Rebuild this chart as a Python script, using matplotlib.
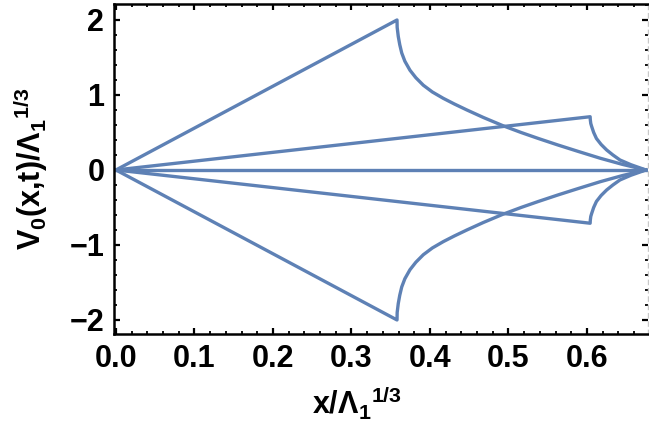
import matplotlib
matplotlib.use("Agg")
import matplotlib.pyplot as plt
from matplotlib.ticker import MultipleLocator

# valores (rama superior; la inferior es simetrica)
x_big_line = [0.0, 0.358]
v_big_line = [0.0, 2.0]
x_big_curve = [0.358, 0.3582, 0.3596, 0.3615, 0.364, 0.368, 0.3745, 0.382,
               0.3915, 0.403, 0.417, 0.431, 0.447, 0.468, 0.493, 0.516,
               0.538, 0.563, 0.588, 0.617, 0.645, 0.675]
v_big_curve = [2.0, 1.9, 1.78, 1.67, 1.56, 1.45, 1.33, 1.23,
               1.13, 1.04, 0.955, 0.88, 0.80, 0.70, 0.59, 0.50,
               0.42, 0.333, 0.25, 0.156, 0.075, 0.0]

x_small_line = [0.0, 0.604]
v_small_line = [0.0, 0.71]
x_small_curve = [0.604, 0.6042, 0.6048, 0.606, 0.6085, 0.612, 0.618, 0.625,
                 0.633, 0.642, 0.656, 0.675]
v_small_curve = [0.71, 0.67, 0.62, 0.578, 0.50, 0.42, 0.34, 0.267,
                 0.20, 0.133, 0.07, 0.0]

x_flat = [0.0, 0.675]
v_flat = [0.0, 0.0]

plt.rcParams["font.family"] = ["Liberation Sans", "DejaVu Sans"]
plt.rcParams["font.weight"] = "bold"
plt.rcParams["mathtext.fontset"] = "custom"
plt.rcParams["mathtext.rm"] = "Liberation Sans:bold"
plt.rcParams["mathtext.it"] = "Liberation Sans:bold"
plt.rcParams["mathtext.bf"] = "Liberation Sans:bold"
plt.rcParams["axes.unicode_minus"] = True

color = "#5E81B5"
lw = 2.4

fig = plt.figure(figsize=(6.49, 4.46), dpi=100)
ax = fig.add_axes([114 / 649, 112 / 446, 534 / 649, 330 / 446])

for sign in (1, -1):
    xb = x_big_line[:-1] + x_big_curve
    vb = v_big_line[:-1] + v_big_curve
    ax.plot(xb, [sign * v for v in vb], color=color, lw=lw, solid_joinstyle="round")
    xs = x_small_line[:-1] + x_small_curve
    vs = v_small_line[:-1] + v_small_curve
    ax.plot(xs, [sign * v for v in vs], color=color, lw=lw, solid_joinstyle="round")
ax.plot(x_flat, v_flat, color=color, lw=lw)

ax.set_xlim(-0.0025, 0.6777)
ax.set_ylim(-2.187, 2.213)

ax.xaxis.set_major_locator(MultipleLocator(0.1))
ax.xaxis.set_minor_locator(MultipleLocator(0.02))
ax.yaxis.set_major_locator(MultipleLocator(1))
ax.yaxis.set_minor_locator(MultipleLocator(0.2))
ax.xaxis.set_major_formatter(plt.FuncFormatter(lambda v, p: f"{v:.1f}"))

ax.tick_params(which="both", direction="in", top=True, right=True, color="black")
ax.tick_params(which="major", length=4.5, width=1.6, labelsize=22, pad=7)
ax.tick_params(which="minor", length=2.5, width=1.3)

for side in ("left", "bottom", "top"):
    ax.spines[side].set_linewidth(1.8)
    ax.spines[side].set_color("black")
ax.spines["right"].set_color("#c8c8c8")
ax.spines["right"].set_linestyle((0, (3, 3)))
ax.spines["right"].set_linewidth(1.0)

ax.set_xlabel("x/Λ$_1{}^{1/3}$", fontsize=22, fontweight="bold")
ax.set_ylabel("V$_0$(x,t)/Λ$_1{}^{1/3}$", fontsize=22, fontweight="bold")
ax.xaxis.set_label_coords(0.455, -0.155)
ax.yaxis.set_label_coords(-0.12, 0.5)

fig.savefig("out.png", dpi=100)
